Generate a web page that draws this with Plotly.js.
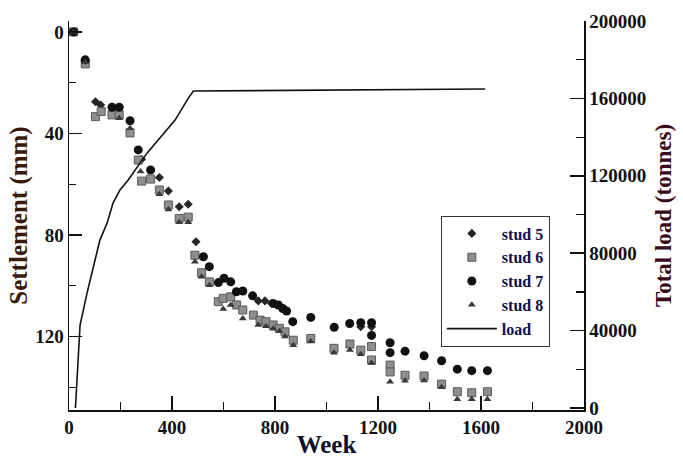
<!DOCTYPE html>
<html>
<head>
<meta charset="utf-8">
<script src="https://cdn.plot.ly/plotly-3.0.1.min.js"></script>
<style>html,body{margin:0;padding:0;background:#fff;}#chart{width:683px;height:458px;}</style>
</head>
<body>
<div id="chart"></div>
<script>
// Stud 5 (diamonds)
const weeks5 = [18, 63, 103, 123, 282, 351, 386, 428, 463, 493, 735, 761, 787, 1133, 1175];
const sett5  = [0, 11.5, 27.5, 28.8, 50.2, 57.4, 62.7, 68.9, 67.9, 82.7, 106, 106, 107, 116.2, 116.2];
// Stud 6 (squares)
const weeks6 = [18, 63, 103, 125, 167, 195, 237, 269, 282, 317, 351, 386, 428, 463, 489, 515, 545, 580, 599, 628, 651, 675, 716, 742, 765, 793, 817, 839, 871, 939, 1029, 1091, 1133, 1175, 1175, 1247, 1247, 1305, 1379, 1447, 1508, 1564, 1625];
const sett6  = [0, 12.6, 33.4, 31.4, 32.7, 32.7, 39.8, 50.5, 58.8, 58, 62.3, 68.2, 73.5, 73, 88, 94.9, 98.5, 106.3, 105, 104.4, 107.6, 109.6, 111.6, 113.6, 114.2, 115.5, 116.8, 118.2, 121.5, 120.8, 124.7, 123, 125.4, 124, 129.3, 131.3, 134, 135.3, 135.6, 138.8, 141.8, 142.2, 141.8];
// Stud 7 (circles)
const weeks7 = [18, 63, 167, 195, 237, 269, 317, 522, 545, 580, 602, 628, 650, 675, 713, 793, 813, 830, 845, 869, 939, 1030, 1090, 1133, 1175, 1175, 1247, 1247, 1305, 1379, 1447, 1508, 1564, 1625];
const sett7  = [0, 11, 29.7, 29.7, 35, 46.5, 54.4, 88.6, 92.5, 98.8, 97.1, 98.5, 102.4, 102.1, 104, 107, 107.6, 109, 110, 114.2, 112.5, 116.4, 114.9, 114.6, 114.6, 119.6, 122.5, 126.4, 125.8, 127.6, 129.6, 132.9, 133.5, 133.5];
// Stud 8 (triangles)
const weeks8 = [18, 63, 195, 237, 278, 351, 386, 428, 463, 489, 515, 545, 599, 628, 675, 735, 765, 793, 817, 839, 871, 939, 1029, 1091, 1133, 1175, 1247, 1305, 1379, 1447, 1508, 1564, 1625];
const sett8  = [0, 12, 34, 38, 55, 64, 70, 75, 75, 90.6, 96.5, 99.8, 109.2, 107.6, 112.9, 115.5, 116, 117, 118, 120, 123.5, 122, 126.4, 125.4, 127, 130.5, 137.9, 137.5, 137.4, 140, 144.8, 144.8, 144.8];
// Total load
const loadWeeks  = [25, 43, 70, 89, 109, 120, 148, 171, 198, 230, 302, 412, 463, 483, 1616];
const loadTonnes = [0, 42900, 59400, 69800, 80100, 86800, 95600, 105900, 112700, 117800, 131600, 148800, 160000, 163800, 164900];

const serif = "Liberation Serif, Times New Roman, serif";

const traces = [
  {x: weeks5, y: sett5, name: 'stud 5', type: 'scatter', mode: 'markers', yaxis: 'y',
   marker: {symbol: 'diamond', size: 7, color: '#262626'}},
  {x: weeks6, y: sett6, name: 'stud 6', type: 'scatter', mode: 'markers', yaxis: 'y',
   marker: {symbol: 'square', size: 8, color: '#8e8e8e', line: {color: '#5a5a5a', width: 1}}},
  {x: weeks7, y: sett7, name: 'stud 7', type: 'scatter', mode: 'markers', yaxis: 'y',
   marker: {symbol: 'circle', size: 9, color: '#111111'}},
  {x: weeks8, y: sett8, name: 'stud 8', type: 'scatter', mode: 'markers', yaxis: 'y',
   marker: {symbol: 'triangle-up', size: 7, color: '#3a3a3a'}},
  {x: loadWeeks, y: loadTonnes, name: 'load', type: 'scatter', mode: 'lines', yaxis: 'y2',
   line: {color: '#111111', width: 1.6}}
];

const tickFont = {family: serif, size: 19, color: '#111111', weight: 'bold'};

const layout = {
  width: 683, height: 458,
  margin: {l: 69, r: 99, t: 21, b: 48},
  paper_bgcolor: '#ffffff', plot_bgcolor: '#ffffff',
  showlegend: true,
  legend: {
    x: 0.722, xanchor: 'left', y: 0.5, yanchor: 'top',
    font: {family: serif, size: 16, color: '#10104a', weight: 'bold'},
    bgcolor: 'rgba(255,255,255,0)', bordercolor: '#333333', borderwidth: 1,
    tracegroupgap: 0, itemwidth: 50
  },
  xaxis: {
    range: [0, 2000], dtick: 400, tick0: 0,
    showgrid: false, zeroline: false,
    showline: true, linecolor: '#111111', linewidth: 1.5,
    ticks: 'inside', ticklen: 14, tickwidth: 1.5, tickcolor: '#111111',
    minor: {dtick: 200, ticks: 'inside', ticklen: 8, tickwidth: 1.2, tickcolor: '#111111'},
    tickfont: tickFont,
    title: {text: 'Week', font: {family: serif, size: 25, color: '#10102a', weight: 'bold'}, standoff: 0}
  },
  yaxis: {
    range: [149, -4.3], dtick: 40, tick0: 0,
    showgrid: false, zeroline: false,
    showline: true, linecolor: '#111111', linewidth: 1.5,
    ticks: 'inside', ticklen: 13, tickwidth: 1.5, tickcolor: '#111111',
    minor: {dtick: 20, ticks: 'inside', ticklen: 7, tickwidth: 1.2, tickcolor: '#111111'},
    tickfont: tickFont,
    title: {text: 'Settlement (mm)', font: {family: serif, size: 25, color: '#3a1a0a', weight: 'bold'}, standoff: 0}
  },
  yaxis2: {
    overlaying: 'y', side: 'right',
    range: [-1000, 200000], dtick: 40000, tick0: 0, tickformat: 'd',
    showgrid: false, zeroline: false,
    showline: true, linecolor: '#111111', linewidth: 1.5,
    ticks: 'inside', ticklen: 14, tickwidth: 1.5, tickcolor: '#111111',
    minor: {dtick: 20000, ticks: 'inside', ticklen: 8, tickwidth: 1.2, tickcolor: '#111111'},
    tickfont: tickFont,
    title: {text: 'Total load (tonnes)', font: {family: serif, size: 23, color: '#3a0a1a', weight: 'bold'}, standoff: 9}
  }
};

Plotly.newPlot('chart', traces, layout, {displayModeBar: false, staticPlot: true});
</script>
</body>
</html>
